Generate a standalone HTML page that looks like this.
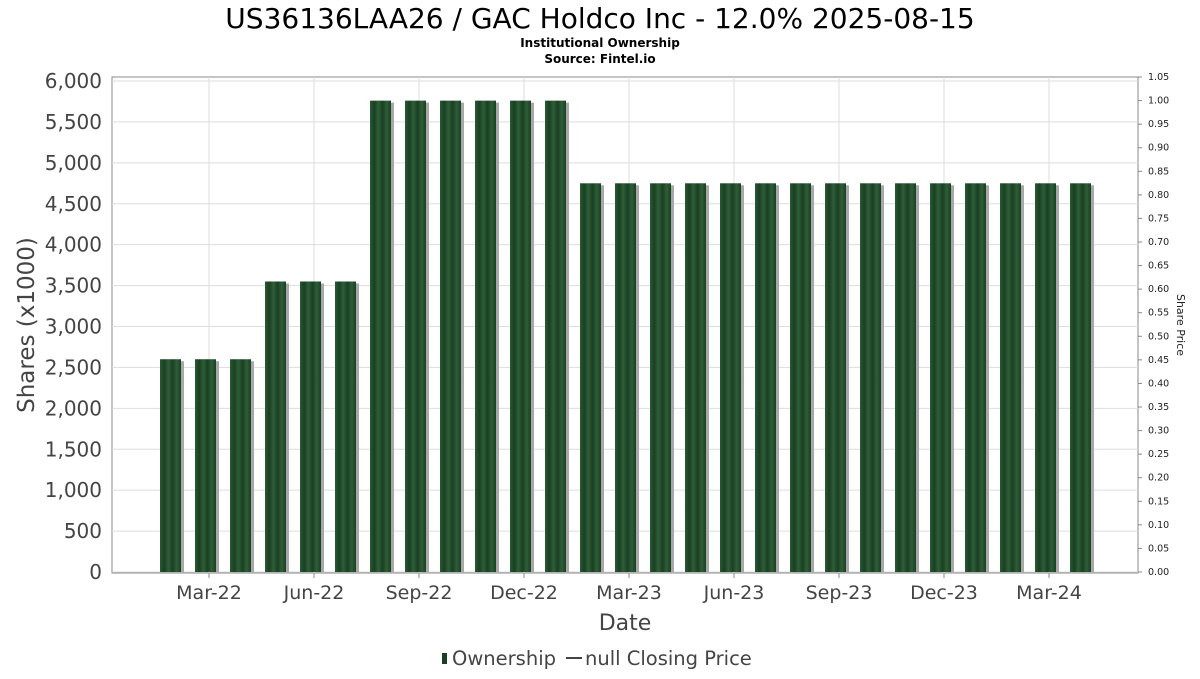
<!DOCTYPE html>
<html><head><meta charset="utf-8"><style>
body{margin:0;background:#fff;font-family:"DejaVu Sans","Liberation Sans",sans-serif;}
</style></head><body>
<svg id="chart" width="1200" height="675" xmlns="http://www.w3.org/2000/svg">
<defs>
<linearGradient id="barg" x1="0" x2="1" y1="0" y2="0">
<stop offset="0" stop-color="#2a5a35"/><stop offset="0.2" stop-color="#1a3f22"/><stop offset="0.4" stop-color="#2e5e38"/><stop offset="0.6" stop-color="#1a3f22"/><stop offset="0.8" stop-color="#2e5e38"/><stop offset="1" stop-color="#1a3f22"/>
</linearGradient>
</defs>
<text x="600" y="28" text-anchor="middle" font-size="28" fill="#000">US36136LAA26 / GAC Holdco Inc - 12.0% 2025-08-15</text>
<text x="600" y="47" text-anchor="middle" font-size="12" font-weight="bold">Institutional Ownership</text>
<text x="600" y="63" text-anchor="middle" font-size="12" font-weight="bold">Source: Fintel.io</text>
<rect x="112" y="77" width="1026" height="496" fill="#fff" stroke="#888"/>
<g id="grid"></g><g id="bars"></g><g id="axes"></g>
<text transform="translate(34,325) rotate(-90)" text-anchor="middle" font-size="23" fill="#444">Shares (x1000)</text>
<text transform="translate(1177,325) rotate(90)" text-anchor="middle" font-size="11" fill="#222">Share Price</text>
<text x="625" y="630" text-anchor="middle" font-size="22" fill="#444">Date</text>
<g>
<rect x="442" y="653" width="5" height="11" fill="#1a3f22"/>
<text x="452" y="665" font-size="19.5" fill="#444">Ownership</text>
<line x1="566" y1="658" x2="582" y2="658" stroke="#444" stroke-width="2"/>
<text x="585" y="665" font-size="19.5" fill="#444">null Closing Price</text>
</g>
</svg>
<script>
const shareValues=[2600,2600,2600,3550,3550,3550,5760,5760,5760,5760,5760,5760,4750,4750,4750,4750,4750,4750,4750,4750,4750,4750,4750,4750,4750,4750,4750];
const yTicks=[0,500,1000,1500,2000,2500,3000,3500,4000,4500,5000,5500,6000];
const xLabels=["Mar-22","Jun-22","Sep-22","Dec-22","Mar-23","Jun-23","Sep-23","Dec-23","Mar-24"];
const xLabelBarIndex=[1,4,7,10,13,16,19,22,25];
const priceTicks=[0,0.05,0.1,0.15,0.2,0.25,0.3,0.35,0.4,0.45,0.5,0.55,0.6,0.65,0.7,0.75,0.8,0.85,0.9,0.95,1.0,1.05];
const NS="http://www.w3.org/2000/svg";
const y=v=>572-v/6000*491;
const y2=v=>572-v/1.05*495;
const xl=i=>160+i*35;
function mk(t,a,p){const e=document.createElementNS(NS,t);for(const k in a)e.setAttribute(k,a[k]);p.appendChild(e);return e;}
const grid=document.getElementById('grid'),bars=document.getElementById('bars'),axes=document.getElementById('axes');
yTicks.forEach(v=>{
 const l=mk('line',{x1:112,x2:1138,y1:y(v),y2:y(v),stroke:'#ddd'},grid);
 
 
 const t=mk('text',{x:102,y:y(v)+7,'text-anchor':'end','font-size':20,fill:'#444'},axes);
 t.textContent=v.toLocaleString('en-US');
 
 
});
xLabelBarIndex.forEach((bi,k)=>{
 const x=xl(bi)+14;
 const l=mk('line',{x1:x,x2:x,y1:77,y2:573,stroke:'#ddd'},grid);
 
 
 const tk=mk('line',{x1:x,x2:x,y1:573,y2:578,stroke:'#888'},axes);
 
 
 const t=mk('text',{x:x,y:599,'text-anchor':'middle','font-size':19,fill:'#444'},axes);
 t.textContent=xLabels[k];
 
 
});
priceTicks.forEach(v=>{
 const tk=mk('line',{x1:1138,x2:1142,y1:y2(v),y2:y2(v),stroke:'#888'},axes);
 
 
 const t=mk('text',{x:1148,y:y2(v)+3,'font-size':9.5,fill:'#222'},axes);
 t.textContent=v.toFixed(2);
 
 
});
shareValues.forEach((v,i)=>{
 const x=xl(i);
 const s=mk('rect',{x:x+3,y:y(v)+2,width:21,height:572-y(v)-2,fill:'#a8a8a8'},bars);
 
 
 const r=mk('rect',{x:x,y:y(v),width:21,height:572-y(v),fill:'url(#barg)'},bars);
 
 
});
</script>
</body></html>
